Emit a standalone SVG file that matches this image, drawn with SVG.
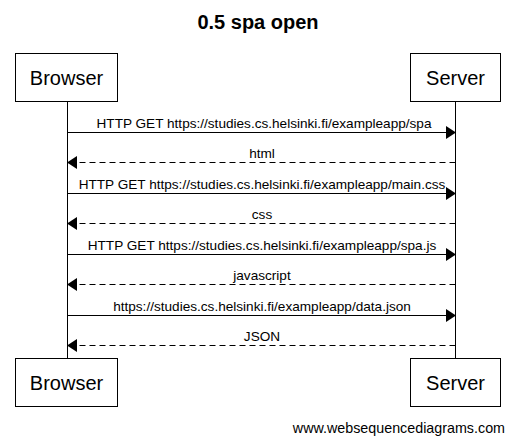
<svg xmlns="http://www.w3.org/2000/svg" width="514" height="442" viewBox="0 0 514 442">
<style>
text{font-family:"Liberation Sans",Arial,sans-serif;fill:#000}
.t{font-size:20px;font-weight:bold}
.p{font-size:20px}
.m{font-size:13.6px}
.f{font-size:14.3px}
.box{fill:#fff;stroke:#000;stroke-width:1}
.life{stroke:#000;stroke-width:1}
.req{stroke:#000;stroke-width:1;fill:none}
.res{stroke:#000;stroke-width:1;fill:none;stroke-dasharray:6,4}
</style>
<defs>
<marker id="ah" markerWidth="10" markerHeight="13" refX="10" refY="6.5" orient="auto" markerUnits="userSpaceOnUse">
<path d="M0,0 L10,6.5 L0,13 z" fill="#000"/>
</marker>
</defs>
<rect width="514" height="442" fill="#fff"/>
<text class="t" x="258" y="29" text-anchor="middle">0.5 spa open</text>
<g id="lifelines">
<line class="life" x1="67.5" y1="101" x2="67.5" y2="358"/>
<line class="life" x1="455.5" y1="101" x2="455.5" y2="358"/>
</g>
<g id="browser-top"><rect class="box" x="15.5" y="53.5" width="102" height="48"/><text class="p" x="66.5" y="85" text-anchor="middle">Browser</text></g>
<g id="server-top"><rect class="box" x="410.5" y="53.5" width="90" height="48"/><text class="p" x="455.5" y="85" text-anchor="middle">Server</text></g>
<g id="browser-bottom"><rect class="box" x="15.5" y="358.5" width="102" height="48"/><text class="p" x="66.5" y="390" text-anchor="middle">Browser</text></g>
<g id="server-bottom"><rect class="box" x="410.5" y="358.5" width="90" height="48"/><text class="p" x="455.5" y="390" text-anchor="middle">Server</text></g>
<g id="connectors">
<line class="req" x1="67.5" y1="132.5" x2="456" y2="132.5" marker-end="url(#ah)"/>
<text class="m" x="264" y="128" text-anchor="middle">HTTP GET https://studies.cs.helsinki.fi/exampleapp/spa</text>
<line class="res" x1="455.5" y1="162.5" x2="67" y2="162.5" marker-end="url(#ah)"/>
<text class="m" x="262" y="158" text-anchor="middle">html</text>
<line class="req" x1="67.5" y1="193.5" x2="456" y2="193.5" marker-end="url(#ah)"/>
<text class="m" x="262" y="189" text-anchor="middle">HTTP GET https://studies.cs.helsinki.fi/exampleapp/main.css</text>
<line class="res" x1="455.5" y1="223.5" x2="67" y2="223.5" marker-end="url(#ah)"/>
<text class="m" x="262" y="219" text-anchor="middle">css</text>
<line class="req" x1="67.5" y1="254.5" x2="456" y2="254.5" marker-end="url(#ah)"/>
<text class="m" x="262" y="250" text-anchor="middle">HTTP GET https://studies.cs.helsinki.fi/exampleapp/spa.js</text>
<line class="res" x1="455.5" y1="284.5" x2="67" y2="284.5" marker-end="url(#ah)"/>
<text class="m" x="262" y="280" text-anchor="middle">javascript</text>
<line class="req" x1="67.5" y1="315.5" x2="456" y2="315.5" marker-end="url(#ah)"/>
<text class="m" x="262" y="311" text-anchor="middle">https://studies.cs.helsinki.fi/exampleapp/data.json</text>
<line class="res" x1="455.5" y1="345.5" x2="67" y2="345.5" marker-end="url(#ah)"/>
<text class="m" x="262" y="341" text-anchor="middle">JSON</text>
</g>
<text class="f" x="505" y="433" text-anchor="end">www.websequencediagrams.com</text>
</svg>
